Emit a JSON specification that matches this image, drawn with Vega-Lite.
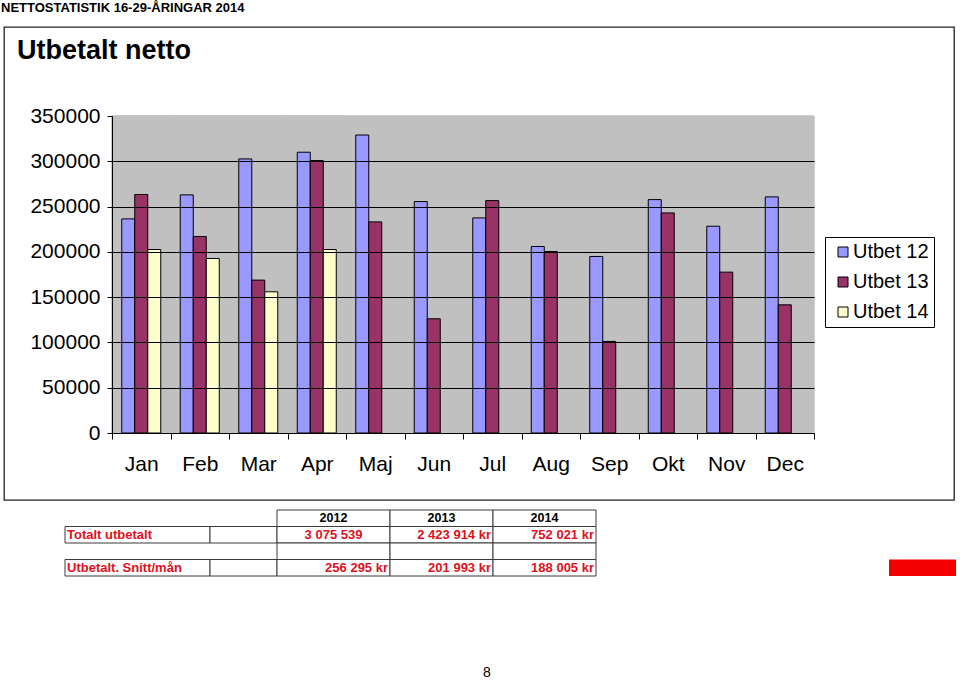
{
  "$schema": "https://vega.github.io/schema/vega-lite/v6.json",
  "padding": {"left": 1, "top": 2, "right": 0, "bottom": 0},
  "config": {
    "font": "Liberation Sans",
    "view": {"stroke": null},
    "title": {"color": "#000"}
  },
  "datasets": {
    "bars": [
      {"month": "Jan", "series": "Utbet 12", "value": 236400},
      {"month": "Jan", "series": "Utbet 13", "value": 263300},
      {"month": "Jan", "series": "Utbet 14", "value": 202600},
      {"month": "Feb", "series": "Utbet 12", "value": 262900},
      {"month": "Feb", "series": "Utbet 13", "value": 217000},
      {"month": "Feb", "series": "Utbet 14", "value": 192700},
      {"month": "Mar", "series": "Utbet 12", "value": 302600},
      {"month": "Mar", "series": "Utbet 13", "value": 168800},
      {"month": "Mar", "series": "Utbet 14", "value": 155900},
      {"month": "Apr", "series": "Utbet 12", "value": 310000},
      {"month": "Apr", "series": "Utbet 13", "value": 300800},
      {"month": "Apr", "series": "Utbet 14", "value": 202600},
      {"month": "Maj", "series": "Utbet 12", "value": 329000},
      {"month": "Maj", "series": "Utbet 13", "value": 233100},
      {"month": "Jun", "series": "Utbet 12", "value": 255500},
      {"month": "Jun", "series": "Utbet 13", "value": 126100},
      {"month": "Jul", "series": "Utbet 12", "value": 237500},
      {"month": "Jul", "series": "Utbet 13", "value": 256600},
      {"month": "Aug", "series": "Utbet 12", "value": 205900},
      {"month": "Aug", "series": "Utbet 13", "value": 200400},
      {"month": "Sep", "series": "Utbet 12", "value": 194900},
      {"month": "Sep", "series": "Utbet 13", "value": 101100},
      {"month": "Okt", "series": "Utbet 12", "value": 257700},
      {"month": "Okt", "series": "Utbet 13", "value": 243000},
      {"month": "Nov", "series": "Utbet 12", "value": 228300},
      {"month": "Nov", "series": "Utbet 13", "value": 177600},
      {"month": "Dec", "series": "Utbet 12", "value": 260700},
      {"month": "Dec", "series": "Utbet 13", "value": 141500}
    ],
    "cells": [
      {"col": "label", "row": "total", "text": "Totalt utbetalt"},
      {"col": "label", "row": "avg", "text": "Utbetalt. Snitt/mån"},
      {"col": "blank", "row": "total", "text": ""},
      {"col": "blank", "row": "avg", "text": ""},
      {"col": "2012", "row": "header", "text": "2012"},
      {"col": "2012", "row": "total", "text": "3 075 539"},
      {"col": "2012", "row": "blank", "text": ""},
      {"col": "2012", "row": "avg", "text": "256 295 kr"},
      {"col": "2013", "row": "header", "text": "2013"},
      {"col": "2013", "row": "total", "text": "2 423 914 kr"},
      {"col": "2013", "row": "blank", "text": ""},
      {"col": "2013", "row": "avg", "text": "201 993 kr"},
      {"col": "2014", "row": "header", "text": "2014"},
      {"col": "2014", "row": "total", "text": "752 021 kr"},
      {"col": "2014", "row": "blank", "text": ""},
      {"col": "2014", "row": "avg", "text": "188 005 kr"},
      {"col": "flag", "row": "avg", "text": ""}
    ]
  },
  "title": {
    "text": "NETTOSTATISTIK 16-29-ÅRINGAR 2014",
    "anchor": "start", "frame": "group",
    "fontSize": 13, "fontWeight": "bold", "dx": -3, "offset": 11
  },
  "bounds": "flush",
  "spacing": 10,
  "vconcat": [
    {
      "width": 950, "height": 473,
      "view": {"stroke": "#222", "strokeWidth": 1.3, "fill": "#fff"},
      "title": {
        "text": "Utbetalt netto", "anchor": "start", "frame": "group",
        "fontSize": 27, "fontWeight": "bold", "dx": 13, "offset": -38
      },
      "data": {"name": "bars"},
      "encoding": {
        "x": {
          "field": "month", "type": "nominal",
          "sort": ["Jan", "Feb", "Mar", "Apr", "Maj", "Jun", "Jul", "Aug", "Sep", "Okt", "Nov", "Dec"],
          "scale": {"range": [108, 810], "paddingInner": 0, "paddingOuter": 0},
          "axis": {
            "orient": "bottom", "offset": -67, "title": null, "tickBand": "extent",
            "ticks": true, "tickSize": 6, "tickColor": "#000", "domainColor": "#000",
            "labelFontSize": 21, "labelColor": "#000", "labelPadding": 14, "labelAngle": 0,
            "grid": false, "zindex": 3
          }
        }
      },
      "layer": [
        {
          "mark": {"type": "rect", "fill": "#C0C0C0", "stroke": "#C0C0C0", "strokeWidth": 1, "zindex": 0},
          "encoding": {
            "y": {
              "datum": 0, "type": "quantitative",
              "scale": {"domain": [0, 350000], "range": [406, 89], "nice": false, "zero": true},
              "axis": {
                "orient": "left", "offset": -108, "title": null,
                "values": [0, 50000, 100000, 150000, 200000, 250000, 300000, 350000],
                "format": "d", "grid": true, "gridColor": "#000", "gridWidth": 1,
                "gridOpacity": {"condition": {"test": "datum.value === 350000", "value": 0}, "value": 1},
                "domainColor": "#000", "tickColor": "#000", "tickSize": 5,
                "labelFontSize": 21, "labelColor": "#000", "labelPadding": 7, "zindex": 1
              }
            },
            "y2": {"datum": 350000}
          }
        },
        {
          "mark": {"type": "bar", "stroke": "#000", "strokeWidth": 1, "zindex": 2},
          "encoding": {
            "y": {"field": "value", "type": "quantitative"},
            "xOffset": {
              "field": "series", "type": "nominal",
              "scale": {"domain": ["Utbet 12", "Utbet 13", "Utbet 14"], "paddingInner": 0, "paddingOuter": 0.75}
            },
            "color": {
              "field": "series", "type": "nominal",
              "scale": {"domain": ["Utbet 12", "Utbet 13", "Utbet 14"], "range": ["#9999FF", "#993366", "#FFFFCC"]},
              "legend": {
                "orient": "none", "legendX": 821, "legendY": 210, "title": null,
                "strokeColor": "#000", "fillColor": "#fff", "padding": 5,
                "symbolType": "square", "symbolSize": 100, "symbolStrokeColor": "#000", "symbolStrokeWidth": 1,
                "symbolOffset": 3, "labelFontSize": 20, "labelColor": "#000", "labelOffset": 0, "rowPadding": 10
              }
            }
          }
        }
      ]
    },
    {
      "bounds": "flush",
      "spacing": 0,
      "title": {
        "text": "8", "orient": "bottom", "anchor": "middle", "frame": "group",
        "fontSize": 14, "fontWeight": "normal", "offset": 89, "dx": 483
      },
      "hconcat": [
        {"width": 61, "height": 66, "data": {"values": []}, "mark": "rect", "encoding": {}},
        {
          "width": 145, "height": 66,
          "data": {"name": "cells"},
          "transform": [{"filter": "datum.col === 'label'"}],
          "encoding": {"y": {"field": "row", "type": "nominal", "scale": {"domain": ["header", "total", "blank", "avg"], "paddingInner": 0, "paddingOuter": 0}, "axis": null}},
          "layer": [
            {"mark": {"type": "rect", "fill": "#fff", "stroke": "#3a3a3a", "strokeWidth": 1}, "encoding": {"x": {"value": 0}, "x2": {"value": "width"}}},
            {"mark": {"type": "text", "align": "left", "dx": 2, "fontSize": 13, "fontWeight": "bold", "color": "#E0101C"}, "encoding": {"x": {"value": 0}, "text": {"field": "text"}}}
          ]
        },
        {
          "width": 67, "height": 66,
          "data": {"name": "cells"},
          "transform": [{"filter": "datum.col === 'blank'"}],
          "encoding": {"y": {"field": "row", "type": "nominal", "scale": {"domain": ["header", "total", "blank", "avg"], "paddingInner": 0, "paddingOuter": 0}, "axis": null}},
          "layer": [
            {"mark": {"type": "rect", "fill": "#fff", "stroke": "#3a3a3a", "strokeWidth": 1}, "encoding": {"x": {"value": 0}, "x2": {"value": "width"}}}
          ]
        },
        {
          "width": 113, "height": 66,
          "data": {"name": "cells"},
          "transform": [{"filter": "datum.col === '2012'"}],
          "encoding": {"y": {"field": "row", "type": "nominal", "scale": {"domain": ["header", "total", "blank", "avg"], "paddingInner": 0, "paddingOuter": 0}, "axis": null}},
          "layer": [
            {"mark": {"type": "rect", "fill": "#fff", "stroke": "#3a3a3a", "strokeWidth": 1}, "encoding": {"x": {"value": 0}, "x2": {"value": "width"}}},
            {"transform": [{"filter": "datum.row === 'header'"}], "mark": {"type": "text", "fontSize": 12.5, "fontWeight": "bold", "color": "#000"}, "encoding": {"text": {"field": "text"}}},
            {"transform": [{"filter": "datum.row === 'total'"}], "mark": {"type": "text", "fontSize": 13, "fontWeight": "bold", "color": "#E0101C"}, "encoding": {"text": {"field": "text"}}},
            {"transform": [{"filter": "datum.row === 'avg'"}], "mark": {"type": "text", "align": "right", "dx": -2, "fontSize": 13, "fontWeight": "bold", "color": "#E0101C"}, "encoding": {"x": {"value": "width"}, "text": {"field": "text"}}}
          ]
        },
        {
          "width": 103, "height": 66,
          "data": {"name": "cells"},
          "transform": [{"filter": "datum.col === '2013'"}],
          "encoding": {"y": {"field": "row", "type": "nominal", "scale": {"domain": ["header", "total", "blank", "avg"], "paddingInner": 0, "paddingOuter": 0}, "axis": null}},
          "layer": [
            {"mark": {"type": "rect", "fill": "#fff", "stroke": "#3a3a3a", "strokeWidth": 1}, "encoding": {"x": {"value": 0}, "x2": {"value": "width"}}},
            {"transform": [{"filter": "datum.row === 'header'"}], "mark": {"type": "text", "fontSize": 12.5, "fontWeight": "bold", "color": "#000"}, "encoding": {"text": {"field": "text"}}},
            {"transform": [{"filter": "datum.row !== 'header'"}], "mark": {"type": "text", "align": "right", "dx": -2, "fontSize": 13, "fontWeight": "bold", "color": "#E0101C"}, "encoding": {"x": {"value": "width"}, "text": {"field": "text"}}}
          ]
        },
        {
          "width": 103, "height": 66,
          "data": {"name": "cells"},
          "transform": [{"filter": "datum.col === '2014'"}],
          "encoding": {"y": {"field": "row", "type": "nominal", "scale": {"domain": ["header", "total", "blank", "avg"], "paddingInner": 0, "paddingOuter": 0}, "axis": null}},
          "layer": [
            {"mark": {"type": "rect", "fill": "#fff", "stroke": "#3a3a3a", "strokeWidth": 1}, "encoding": {"x": {"value": 0}, "x2": {"value": "width"}}},
            {"transform": [{"filter": "datum.row === 'header'"}], "mark": {"type": "text", "fontSize": 12.5, "fontWeight": "bold", "color": "#000"}, "encoding": {"text": {"field": "text"}}},
            {"transform": [{"filter": "datum.row !== 'header'"}], "mark": {"type": "text", "align": "right", "dx": -2, "fontSize": 13, "fontWeight": "bold", "color": "#E0101C"}, "encoding": {"x": {"value": "width"}, "text": {"field": "text"}}}
          ]
        },
        {"width": 293, "height": 66, "data": {"values": []}, "mark": "rect", "encoding": {}},
        {
          "width": 67, "height": 66,
          "data": {"name": "cells"},
          "transform": [{"filter": "datum.col === 'flag'"}],
          "mark": {"type": "rect", "fill": "#F00000", "strokeWidth": 0},
          "encoding": {
            "y": {"field": "row", "type": "nominal", "scale": {"domain": ["header", "total", "blank", "avg"], "paddingInner": 0, "paddingOuter": 0}, "axis": null},
            "x": {"value": 0}, "x2": {"value": "width"}
          }
        }
      ]
    }
  ]
}
